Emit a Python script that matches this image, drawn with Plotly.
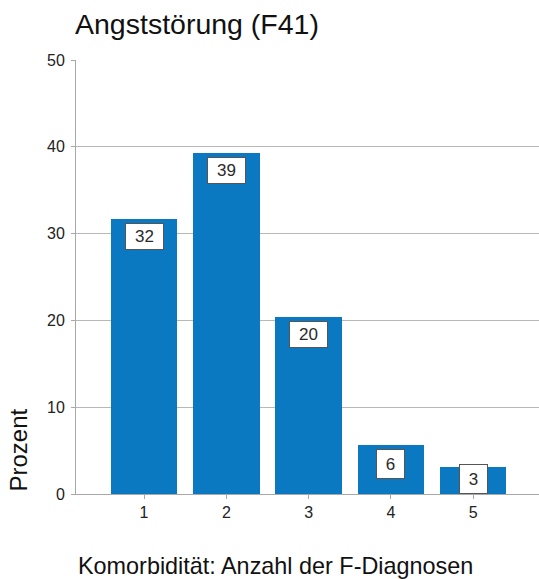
import plotly.graph_objects as go

categories = [1, 2, 3, 4, 5]
values = [31.7, 39.3, 20.4, 5.7, 3.1]
labels = ["32", "39", "20", "6", "3"]
y_ticks = [0, 10, 20, 30, 40, 50]

W, H = 539, 579
L, R, T, B = 76, 0, 60, 85
BAR_COLOR = "#0a79c2"
FONT = "Liberation Sans, Arial, sans-serif"

fig = go.Figure()
fig.add_trace(go.Bar(
    x=categories, y=values, width=0.806,
    marker=dict(color=BAR_COLOR, line=dict(width=0)),
    hoverinfo="skip",
))

annotations = []
for c, v, lab in zip(categories, values, labels):
    two = len(lab) > 1
    ann = dict(
        x=c, xref="x", text=lab, showarrow=False,
        font=dict(family=FONT, size=17, color="#2a2a2a"),
        bgcolor="white", bordercolor="#555555", borderwidth=1, borderpad=3,
        width=31 if two else 21, height=19 if two else 22,
        xanchor="center",
    )
    if v < 5:
        ann.update(y=0, yref="y", yanchor="bottom", yshift=0)
    else:
        ann.update(y=v, yref="y", yanchor="top", yshift=-4)
    annotations.append(ann)

annotations.append(dict(
    text="Komorbidität: Anzahl der F-Diagnosen", showarrow=False,
    xref="paper", yref="paper", x=(275.5 - L) / (W - L - R), y=0,
    xanchor="center", yanchor="middle", yshift=-72,
    font=dict(family=FONT, size=23.4, color="#111111"),
))
annotations.append(dict(
    text="Prozent", showarrow=False, textangle=-90,
    xref="paper", yref="y", x=(18 - L) / (W - L - R), y=0,
    xanchor="center", yanchor="bottom",
    font=dict(family=FONT, size=24, color="#111111"),
))

fig.update_layout(
    width=W, height=H,
    margin=dict(l=L, r=R, t=T, b=B, pad=0),
    paper_bgcolor="white", plot_bgcolor="white",
    showlegend=False,
    title=dict(
        text="Angststörung (F41)", x=75 / W, xanchor="left",
        y=1 - 24 / H, yanchor="middle", xref="container", yref="container",
        font=dict(family=FONT, size=28.5, color="#111111"),
    ),
    xaxis=dict(
        range=[0.174, 5.798], tickmode="array", tickvals=categories,
        ticktext=[str(c) for c in categories],
        showgrid=False, zeroline=False, showline=True, linecolor="#a8a8a8", linewidth=1,
        ticks="outside", ticklen=4, tickcolor="#a8a8a8",
        tickfont=dict(family=FONT, size=16, color="#222222"),
    ),
    yaxis=dict(
        range=[0, 50], tickmode="array", tickvals=y_ticks,
        showgrid=True, gridcolor="#b8b8b8", gridwidth=1,
        zeroline=False, showline=True, linecolor="#a8a8a8", linewidth=1,
        ticks="outside", ticklen=4, tickcolor="#a8a8a8", ticklabelstandoff=3,
        tickfont=dict(family=FONT, size=16, color="#222222"),
    ),
    annotations=annotations,
    bargap=0,
)

fig.write_html(
    "out.html",
    config={"displayModeBar": False},
    post_script="document.body.style.margin='0px';document.body.style.overflow='hidden';",
)
